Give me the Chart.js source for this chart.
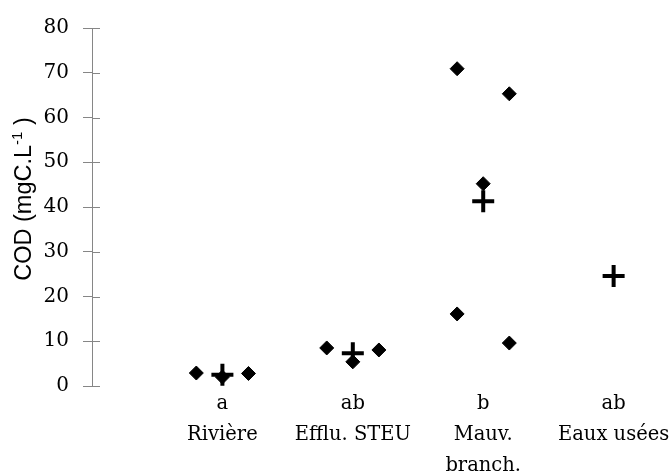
<!DOCTYPE html>
<html>
<head>
<meta charset="utf-8">
<script src="https://cdn.jsdelivr.net/npm/chart.js@4"></script>
<style>
  html, body { margin: 0; padding: 0; background: #fff; }
  #wrap { width: 671px; height: 474px; }
</style>
</head>
<body>
<div id="wrap"><canvas id="c" width="671" height="474"></canvas></div>
<script>
// Statistical group letters and site names, one per site
const groupLetters = ['a', 'ab', 'b', 'ab'];
const siteNames = [['Rivière'], ['Efflu. STEU'], ['Mauv.', 'branch.'], ['Eaux usées']];

// Individual COD samples (mgC/L) per site
const riviere = [2.9, 2.0, 2.8];
const effluSteu = [8.5, 5.4, 8.05];
const mauvBranch = [70.9, 45.2, 65.3, 16.1, 9.6];
const eauxUsees = [];

// Mean COD per site
const means = [2.5, 7.3, 41.3, 24.6];

// Y axis ticks
const yTicks = [0, 10, 20, 30, 40, 50, 60, 70, 80];

// Side-by-side slot of each sample around its site (-1 left, 0 centre, 1 right)
const sampleSlots = [[-1, 0, 1], [-1, 0, 1], [-1, 0, 1, -1, 1], []];

const samples = [riviere, effluSteu, mauvBranch, eauxUsees];
const slotStep = 0.2;

const samplePoints = [];
samples.forEach((vals, i) => {
  vals.forEach((v, j) => samplePoints.push({ x: i + 1 + sampleSlots[i][j] * slotStep, y: v }));
});
const meanPoints = means.map((v, i) => ({ x: i + 1, y: v }));

const AXIS_GREY = '#868686';
const serif = "'DejaVu Serif', serif";

// Tick marks that cross the y axis line, plus the rotated axis title
const axisDecor = {
  id: 'axisDecor',
  afterDraw(chart) {
    const ctx = chart.ctx;
    const ys = chart.scales.y;
    const left = chart.chartArea.left;
    ctx.save();
    ctx.strokeStyle = AXIS_GREY;
    ctx.lineWidth = 1;
    ys.ticks.forEach(t => {
      const py = Math.round(ys.getPixelForValue(t.value)) + 0.5;
      ctx.beginPath();
      ctx.moveTo(left, py);
      ctx.lineTo(left + 8, py);
      ctx.stroke();
    });
    ctx.restore();

    // "COD (mgC.L-1 )" with superscript
    const main = '23.5px "Liberation Sans", Arial, sans-serif';
    const sup = '15px "Liberation Sans", Arial, sans-serif';
    const parts = [
      { t: 'COD (mgC.L', f: main, dy: 0 },
      { t: '-1', f: sup, dy: -9 },
      { t: ' )', f: main, dy: 0 }
    ];
    ctx.save();
    let total = 0;
    parts.forEach(p => { ctx.font = p.f; p.w = ctx.measureText(p.t).width; total += p.w; });
    ctx.translate(31, 199);
    ctx.rotate(-Math.PI / 2);
    ctx.fillStyle = '#000';
    ctx.textBaseline = 'alphabetic';
    let x = -total / 2;
    parts.forEach(p => { ctx.font = p.f; ctx.fillText(p.t, x, p.dy); x += p.w; });
    ctx.restore();
  }
};

new Chart(document.getElementById('c'), {
  type: 'scatter',
  data: {
    datasets: [
      {
        label: 'Échantillons',
        data: samplePoints,
        pointStyle: 'rectRot',
        pointRadius: 7,
        pointBackgroundColor: '#000',
        pointBorderColor: '#000',
        pointBorderWidth: 1
      },
      {
        label: 'Moyenne',
        data: meanPoints,
        pointStyle: 'cross',
        pointRadius: 11,
        pointBorderColor: '#000',
        pointBorderWidth: 4
      }
    ]
  },
  options: {
    responsive: false,
    animation: false,
    devicePixelRatio: 1,
    layout: { autoPadding: false, padding: { left: 0, right: 0, top: 28, bottom: 0 } },
    plugins: { legend: { display: false }, tooltip: { enabled: false } },
    scales: {
      x: {
        type: 'linear',
        min: 0,
        max: 4.44,
        grid: { display: false, drawTicks: false },
        border: { display: false },
        afterBuildTicks: s => { s.ticks = [1, 2, 3, 4].map(v => ({ value: v })); },
        afterFit: s => { s.height = 88; s.paddingLeft = 0; s.paddingRight = 0; },
        ticks: {
          autoSkip: false,
          maxRotation: 0,
          padding: 2,
          color: '#000',
          font: { family: serif, size: 19.5, lineHeight: 1.6 },
          callback: v => [groupLetters[v - 1], ...siteNames[v - 1]]
        }
      },
      y: {
        min: 0,
        max: 80,
        afterBuildTicks: s => { s.ticks = yTicks.map(v => ({ value: v })); },
        afterFit: s => { s.width = 92; },
        grid: { drawOnChartArea: false, drawTicks: true, tickLength: 9, color: AXIS_GREY },
        border: { display: true, color: AXIS_GREY, width: 1 },
        ticks: {
          padding: 14,
          color: '#000',
          font: { family: serif, size: 20 }
        }
      }
    }
  },
  plugins: [axisDecor]
});
</script>
</body>
</html>
